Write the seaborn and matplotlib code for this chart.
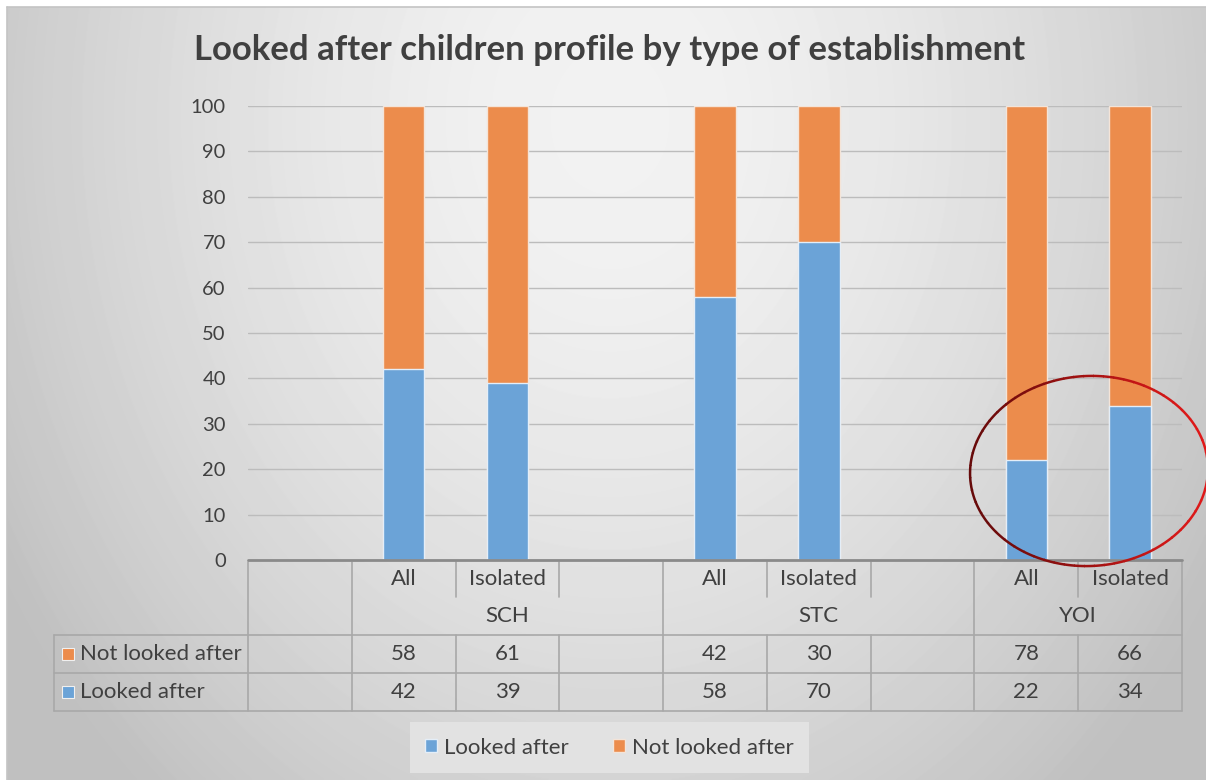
import numpy as np
import pandas as pd
import matplotlib
matplotlib.use("Agg")
import matplotlib.pyplot as plt
import matplotlib.transforms as mtransforms
from matplotlib.patches import Patch, Arc, Rectangle
from matplotlib.lines import Line2D
import seaborn as sns

# data
establishments = ["SCH", "STC", "YOI"]
subsets = ["All", "Isolated"]
looked_after = [42, 39, 58, 70, 22, 34]
not_looked_after = [58, 61, 42, 30, 78, 66]

# slot layout of the category axis (blank spacer columns as in the Excel chart)
slot_order = ["gap0", "SCH All", "SCH Isolated", "gap1",
              "STC All", "STC Isolated", "gap2",
              "YOI All", "YOI Isolated"]
group_spans = {"SCH": (1, 3), "STC": (4, 6), "YOI": (7, 8)}

BLUE = "#6ba3d7"
ORANGE = "#ec8c4c"
TXT = "#404040"
LINE = "#a8a8a8"
FS = 16

W, H = 1206, 780

def fx(x):
    return x / W

def fy(y):
    return 1 - y / H

df = pd.DataFrame({
    "slot": [f"{e} {s}" for e in establishments for s in subsets],
    "looked": looked_after,
    "not_looked": not_looked_after,
})
df["total"] = df["looked"] + df["not_looked"]

sns.set_style("white")
plt.rcParams["font.family"] = ["Lato", "DejaVu Sans"]

fig = plt.figure(figsize=(W / 100, H / 100), dpi=100)
fig.patch.set_facecolor("white")

# grey radial background like the Excel chart area
bg = fig.add_axes([fx(7), 0, 1 - fx(7), fy(7)])
yy, xx = np.mgrid[7:H, 7:W]
d = np.sqrt(((xx - 610) / 700.0) ** 2 + ((yy - 120) / 880.0) ** 2)
shade = np.clip(243 - 50 * d ** 1.6, 192, 245) / 255.0
bg.imshow(shade, cmap="gray", vmin=0, vmax=1, aspect="auto", interpolation="bilinear")
bg.set_axis_off()
fig.add_artist(Line2D([fx(7), fx(7)], [0, fy(7)], color="#c4c4c4", lw=1.2))
fig.add_artist(Line2D([fx(7), 1], [fy(7), fy(7)], color="#c4c4c4", lw=1.2))

ax = fig.add_axes([fx(248), fy(560), fx(1182) - fx(248), fy(106) - fy(560)])
ax.patch.set_alpha(0)

sns.barplot(data=df, x="slot", y="total", order=slot_order, color=ORANGE,
            saturation=1, width=0.4, errorbar=None, edgecolor="#f4e4d8",
            linewidth=1, ax=ax)
sns.barplot(data=df, x="slot", y="looked", order=slot_order, color=BLUE,
            saturation=1, width=0.4, errorbar=None, edgecolor="#e4eef8",
            linewidth=1, ax=ax)

ax.set_xlim(-0.5, len(slot_order) - 0.5)
ax.set_ylim(0, 100)
ax.set_yticks(range(0, 101, 10))
ax.set_xticks([])
ax.set_xlabel("")
ax.set_ylabel("")
ax.tick_params(axis="y", length=0, pad=16, labelsize=14.5, labelcolor=TXT)
ax.yaxis.grid(True, color="#bcbcbc", lw=1)
ax.set_axisbelow(True)
for sp in ax.spines.values():
    sp.set_visible(False)
ax.axhline(0, color="#8a8a8a", lw=2, clip_on=False, zorder=5)

# data table under the axis
tr = mtransforms.blended_transform_factory(ax.transData, fig.transFigure)
x_right = ax.get_position().x1
for y in [635, 673, 711]:
    fig.add_artist(Line2D([fx(54), x_right], [fy(y), fy(y)], color=LINE, lw=1.2))
fig.add_artist(Line2D([fx(54), fx(54)], [fy(635), fy(711)], color=LINE, lw=1.2))

major = [-0.5, 0.5, 3.5, 6.5, 8.5]
minor = [1.5, 2.5, 4.5, 5.5, 7.5]
for b in major:
    ax.add_line(Line2D([b, b], [fy(562), fy(711)], transform=tr, color=LINE, lw=1.2, clip_on=False))
for b in minor:
    ax.add_line(Line2D([b, b], [fy(562), fy(597)], transform=tr, color=LINE, lw=1.2, clip_on=False))
    ax.add_line(Line2D([b, b], [fy(635), fy(711)], transform=tr, color=LINE, lw=1.2, clip_on=False))

for i, slot in enumerate(slot_order):
    row = df[df["slot"] == slot]
    if row.empty:
        continue
    sub = slot.split(" ")[1]
    ax.text(i, fy(579), sub, transform=tr, ha="center", va="center", fontsize=FS, color=TXT)
    ax.text(i, fy(654), str(row["not_looked"].iloc[0]), transform=tr, ha="center",
            va="center", fontsize=FS, color=TXT)
    ax.text(i, fy(692), str(row["looked"].iloc[0]), transform=tr, ha="center",
            va="center", fontsize=FS, color=TXT)

for name, (a, b) in group_spans.items():
    ax.text((a + b) / 2, fy(616), name, transform=tr, ha="center", va="center",
            fontsize=FS, color=TXT)

for y, lab, col in [(654, "Not looked after", ORANGE), (692, "Looked after", BLUE)]:
    fig.add_artist(Rectangle((fx(62), fy(y + 6)), fx(12), 12 / H, transform=fig.transFigure,
                             facecolor=col, edgecolor="#f0f0f0", lw=0.8))
    fig.text(fx(80), fy(y), lab, color=TXT, fontsize=FS, ha="left", va="center")

# title
fig.text(fx(610), fy(50), "Looked after children profile by type of establishment",
         ha="center", va="center", fontsize=25, fontweight="bold", color=TXT)

# legend
handles = [Patch(facecolor=BLUE, edgecolor="#e4eef8", label="Looked after"),
           Patch(facecolor=ORANGE, edgecolor="#f4e4d8", label="Not looked after")]
leg = fig.legend(handles=handles, loc="center", bbox_to_anchor=(fx(609.5), fy(747.5)),
                 ncol=2, fontsize=FS, frameon=True, fancybox=False,
                 handlelength=0.55, handleheight=0.55, handletextpad=0.3,
                 columnspacing=2.0, borderpad=0.7, borderaxespad=0, labelcolor=TXT)
leg.get_frame().set_facecolor("#e2e2e2")
leg.get_frame().set_edgecolor("none")
leg.get_frame().set_alpha(1)

# red highlight ellipse round the YOI bars, darker on the left like the original
cx, cy = 1089, H - 471
for t in range(0, 360, 6):
    mid = np.radians(t + 3)
    k = (np.cos(mid) + 1) / 2
    col = (0.40 + 0.48 * k, 0.04 + 0.06 * k, 0.04 + 0.06 * k)
    fig.add_artist(Arc((cx, cy), 238, 190, angle=3, theta1=t, theta2=t + 6.5,
                       transform=mtransforms.IdentityTransform(), color=col, lw=1.8))

fig.savefig("out.png", dpi=100)
